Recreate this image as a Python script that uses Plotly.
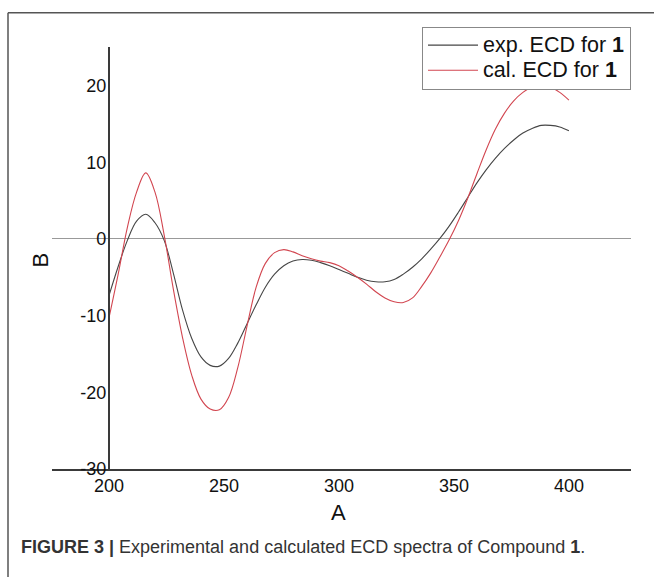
import plotly.graph_objects as go

# ---- data ----
wavelength = [200, 204, 208, 212, 216, 220, 224, 228, 232, 236, 240, 244, 248, 252, 256, 260,
              264, 268, 272, 276, 280, 284, 288, 292, 296, 300, 304, 308, 312, 316, 320, 324,
              328, 332, 336, 340, 344, 348, 352, 356, 360, 364, 368, 372, 376, 380, 384, 388,
              392, 396, 400]
ecd_exp = [-7.4, -3.6, -0.2, 2.3, 3.2, 2.1, -0.2, -4.5, -9.3, -13.0, -15.4, -16.5, -16.6, -15.6, -13.6, -11.1,
           -8.6, -6.3, -4.6, -3.5, -2.9, -2.7, -2.8, -3.1, -3.5, -4.0, -4.5, -5.0, -5.4, -5.6, -5.6, -5.3,
           -4.6, -3.7, -2.6, -1.3, 0.1, 1.7, 3.5, 5.4, 7.3, 9.0, 10.5, 11.8, 12.9, 13.8, 14.4, 14.8,
           14.8, 14.6, 14.1]
ecd_cal = [-10.3, -4.6, 1.5, 6.1, 8.6, 6.1, 0.5, -6.6, -12.9, -17.8, -20.9, -22.2, -22.3, -20.7, -16.8, -11.4,
           -6.3, -3.2, -1.8, -1.4, -1.7, -2.2, -2.6, -2.9, -3.1, -3.5, -4.2, -5.0, -5.9, -6.9, -7.7, -8.2,
           -8.3, -7.7, -6.2, -4.4, -2.3, -0.1, 2.4, 5.3, 8.5, 11.6, 14.3, 16.4, 18.0, 19.1, 19.8, 20.0,
           19.8, 19.1, 18.1]

series_names = ["exp. ECD for <b>1</b>", "cal. ECD for <b>1</b>"]
x_tick_values = [200, 250, 300, 350, 400]
x_tick_labels = ["200", "250", "300", "350", "400"]
y_tick_values = [-30, -20, -10, 0, 10, 20]
y_tick_labels = ["-30", "-20", "-10", "0", "10", "20"]
x_title = "A"
y_title = "B"
caption = "<b>FIGURE 3 |</b> Experimental and calculated ECD spectra of Compound <b>1</b>."

# ---- layout geometry ----
W, H = 654, 587
X_RANGE = [175, 427]
Y_RANGE = [-30, 25]
plot_left, plot_right = 51.5, 631.0
plot_top, plot_bottom = 48.0, 477.0
FONT = "Liberation Sans, Arial, sans-serif"
LEGEND_TEXT_PX = 21.5

x_dom = [plot_left / W, plot_right / W]
y_dom = [(H - plot_bottom) / H, (H - plot_top) / H]
yaxis_pos = x_dom[0] + (200 - X_RANGE[0]) / (X_RANGE[1] - X_RANGE[0]) * (x_dom[1] - x_dom[0])


def legend_label(name):
    return f'<span style="font-size:{LEGEND_TEXT_PX}px">{name}</span>'


fig = go.Figure()
fig.add_trace(go.Scatter(x=wavelength, y=ecd_exp, mode="lines", name=legend_label(series_names[0]),
                         line=dict(color="rgb(70,70,70)", width=1.1, shape="spline", smoothing=1.0)))
fig.add_trace(go.Scatter(x=wavelength, y=ecd_cal, mode="lines", name=legend_label(series_names[1]),
                         line=dict(color="rgb(210,70,80)", width=1.1, shape="spline", smoothing=1.0)))

fig.update_layout(
    width=W, height=H,
    margin=dict(l=0, r=0, t=0, b=0),
    paper_bgcolor="white", plot_bgcolor="white",
    font=dict(family=FONT, color="#111", size=18),
    xaxis=dict(domain=x_dom, range=X_RANGE, showgrid=False, zeroline=False,
               showline=True, linecolor="#3a3a3a", linewidth=2,
               tickmode="array", tickvals=x_tick_values, ticktext=x_tick_labels,
               ticks="", tickfont=dict(size=18, family=FONT, color="#111")),
    yaxis=dict(domain=y_dom, range=Y_RANGE, anchor="free", position=yaxis_pos,
               showgrid=False, zeroline=True, zerolinecolor="#999", zerolinewidth=1.2,
               showline=True, linecolor="#3a3a3a", linewidth=2,
               tickmode="array", tickvals=y_tick_values, ticktext=y_tick_labels,
               ticks="", ticklabelstandoff=-2,
               tickfont=dict(size=18, family=FONT, color="#111")),
    legend=dict(x=422 / W, y=(H - 27) / H, xanchor="left", yanchor="top",
                bordercolor="#888", borderwidth=1, bgcolor="white",
                font=dict(size=17, family=FONT, color="#111"),
                itemwidth=50, tracegroupgap=0),
    showlegend=True,
)

# axis titles
fig.add_annotation(x=300, xref="x", y=(H - 521) / H, yref="paper", text=x_title,
                   showarrow=False, font=dict(size=22, family=FONT, color="#111"),
                   xanchor="center", yanchor="middle")
fig.add_annotation(x=40 / W, xref="paper", y=(H - 265) / H, yref="paper", text=y_title,
                   showarrow=False, textangle=-90, font=dict(size=22, family=FONT, color="#111"),
                   xanchor="center", yanchor="middle")

# caption
fig.add_annotation(x=19 / W, xref="paper", y=(H - 556) / H, yref="paper", text=caption,
                   showarrow=False, font=dict(size=18, family=FONT, color="#333"),
                   xanchor="left", yanchor="middle", align="left")

# figure frame (top and left borders)
fig.add_shape(type="line", xref="paper", yref="paper", x0=8 / W, x1=1, y0=(H - 13) / H, y1=(H - 13) / H,
              line=dict(color="#555", width=1.5))
fig.add_shape(type="line", xref="paper", yref="paper", x0=8 / W, x1=8 / W, y0=0, y1=(H - 13) / H,
              line=dict(color="#555", width=1.5))

fig.write_html("out.html")
